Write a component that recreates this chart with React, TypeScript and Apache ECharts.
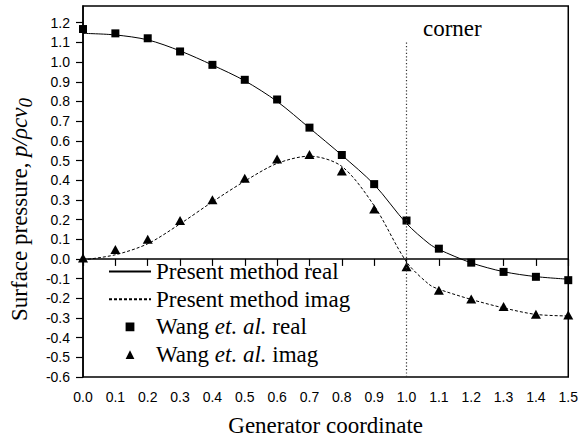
import React, { useEffect, useRef } from "react";
import * as echarts from "echarts";

// Generator coordinate of the reference points (Wang et. al.)
const wangX = [0, 0.1, 0.2, 0.3, 0.4, 0.5, 0.6, 0.7, 0.8, 0.9, 1.0, 1.1, 1.2, 1.3, 1.4, 1.5];
const wangReal = [1.168, 1.146, 1.121, 1.054, 0.986, 0.91, 0.81, 0.667, 0.528, 0.38, 0.195, 0.052, -0.019, -0.066, -0.091, -0.108];
const wangImag = [0.005, 0.048, 0.1, 0.195, 0.3, 0.41, 0.507, 0.53, 0.447, 0.254, -0.04, -0.159, -0.204, -0.242, -0.281, -0.285];

// Present method curves
const presentX = [0, 0.1, 0.2, 0.3, 0.4, 0.5, 0.6, 0.7, 0.8, 0.9, 1.0, 1.07, 1.1, 1.2, 1.3, 1.4, 1.5];
const presentReal = [1.146, 1.138, 1.113, 1.057, 0.985, 0.905, 0.8, 0.665, 0.527, 0.378, 0.18, 0.077, 0.048, -0.02, -0.065, -0.09, -0.103];
const presentImag = [-0.005, 0.021, 0.077, 0.178, 0.29, 0.395, 0.485, 0.522, 0.47, 0.27, -0.015, -0.13, -0.154, -0.206, -0.249, -0.282, -0.29];

const yTicks = [-0.6, -0.5, -0.4, -0.3, -0.2, -0.1, 0, 0.1, 0.2, 0.3, 0.4, 0.5, 0.6, 0.7, 0.8, 0.9, 1.0, 1.1, 1.2];
const cornerX = 1.0;
const cornerTop = 1.1;

const SERIF = "'Liberation Serif', 'Times New Roman', serif";
const SANS = "'Liberation Sans', Arial, sans-serif";
const FS = 23;

const pairs = (xs: number[], ys: number[]) => xs.map((x, i) => [x, ys[i]]);

export default function App() {
  const ref = useRef<HTMLDivElement>(null);
  useEffect(() => {
    if (!ref.current) return;
    const chart = echarts.init(ref.current, undefined, { renderer: "svg" });
    const legendItalic = { fontStyle: "italic", fontFamily: SERIF, fontSize: FS, color: "#000" };
    chart.setOption({
      animation: false,
      backgroundColor: "#fff",
      grid: {
        left: 82,
        right: 10,
        top: 6,
        bottom: 63,
        show: true,
        borderColor: "#000",
        borderWidth: 1.5,
      },
      xAxis: {
        type: "value",
        min: 0,
        max: 1.5,
        interval: 0.1,
        name: "Generator coordinate",
        nameLocation: "middle",
        nameGap: 37,
        nameTextStyle: { fontFamily: SERIF, fontSize: FS, color: "#000" },
        axisLine: { lineStyle: { color: "#000", width: 1.5 } },
        axisTick: { inside: false, length: 7, lineStyle: { color: "#000", width: 1.2 } },
        axisLabel: {
          margin: 13,
          fontFamily: SANS,
          fontSize: 14,
          color: "#000",
          formatter: (v: number) => v.toFixed(1),
        },
        splitLine: { show: false },
      },
      yAxis: {
        type: "value",
        min: -0.6,
        max: 1.285,
        interval: 0.1,
        name: "Surface pressure, {i|p/ρcv}{s|0}",
        nameLocation: "middle",
        nameGap: 47,
        nameTextStyle: {
          fontFamily: SERIF,
          fontSize: FS,
          color: "#000",
          padding: [0, 36, 0, 0],
          rich: {
            i: { fontFamily: SERIF, fontSize: FS, fontStyle: "italic", color: "#000" },
            s: { fontFamily: SERIF, fontSize: 19, fontStyle: "italic", color: "#000", padding: [12, 0, 0, 0] },
          },
        },
        axisLine: { lineStyle: { color: "#000", width: 1.5 } },
        axisTick: { inside: false, length: 7, customValues: yTicks, lineStyle: { color: "#000", width: 1.2 } },
        axisLabel: {
          margin: 13,
          fontFamily: SANS,
          fontSize: 14,
          color: "#000",
          customValues: yTicks,
          formatter: (v: number) => v.toFixed(1),
        },
        splitLine: { show: false },
      },
      legend: {
        orient: "vertical",
        left: 108,
        top: 260,
        padding: 0,
        itemGap: 4.7,
        itemWidth: 42,
        itemHeight: 11,
        textStyle: {
          fontFamily: SERIF,
          fontSize: FS,
          color: "#000",
          rich: { i: legendItalic },
        },
        formatter: (name: string) => name.replace("et. al.", "{i|et. al.}"),
        data: [
          { name: "Present method real", itemStyle: { opacity: 0 } },
          { name: "Present method imag", itemStyle: { opacity: 0 } },
          { name: "Wang et. al. real", lineStyle: { opacity: 0 } },
          { name: "Wang et. al. imag", lineStyle: { opacity: 0 } },
        ],
      },
      graphic: [
        {
          type: "text",
          left: 423,
          top: 17,
          style: { text: "corner", fontFamily: SERIF, fontSize: FS, fill: "#000" },
        },
      ],
      series: [
        {
          name: "Present method real",
          type: "line",
          data: pairs(presentX, presentReal),
          symbol: "none",
          smooth: 0.3,
          lineStyle: { color: "#000", width: 1 },
          itemStyle: { color: "#000" },
          markLine: {
            silent: true,
            symbol: "none",
            label: { show: false },
            lineStyle: { color: "#333", width: 1.2, type: [1.2, 2.2] },
            data: [[{ coord: [cornerX, -0.6] }, { coord: [cornerX, cornerTop] }]],
          },
          z: 3,
        },
        {
          name: "Present method imag",
          type: "line",
          data: pairs(presentX, presentImag),
          symbol: "none",
          smooth: 0.3,
          lineStyle: { color: "#000", width: 1, type: [3, 2] },
          itemStyle: { color: "#000" },
          z: 3,
        },
        {
          name: "Wang et. al. real",
          type: "line",
          data: pairs(wangX, wangReal),
          symbol: "rect",
          symbolSize: 8,
          showAllSymbol: true,
          lineStyle: { width: 0, opacity: 0 },
          itemStyle: { color: "#000" },
          z: 4,
        },
        {
          name: "Wang et. al. imag",
          type: "line",
          data: pairs(wangX, wangImag),
          symbol: "triangle",
          symbolSize: [10, 9],
          showAllSymbol: true,
          lineStyle: { width: 0, opacity: 0 },
          itemStyle: { color: "#000" },
          z: 4,
        },
      ],
    });
    return () => chart.dispose();
  }, []);
  return (
    <div
      ref={ref}
      style={{ position: "fixed", left: 0, top: 0, width: 581, height: 442, background: "#fff" }}
    />
  );
}
